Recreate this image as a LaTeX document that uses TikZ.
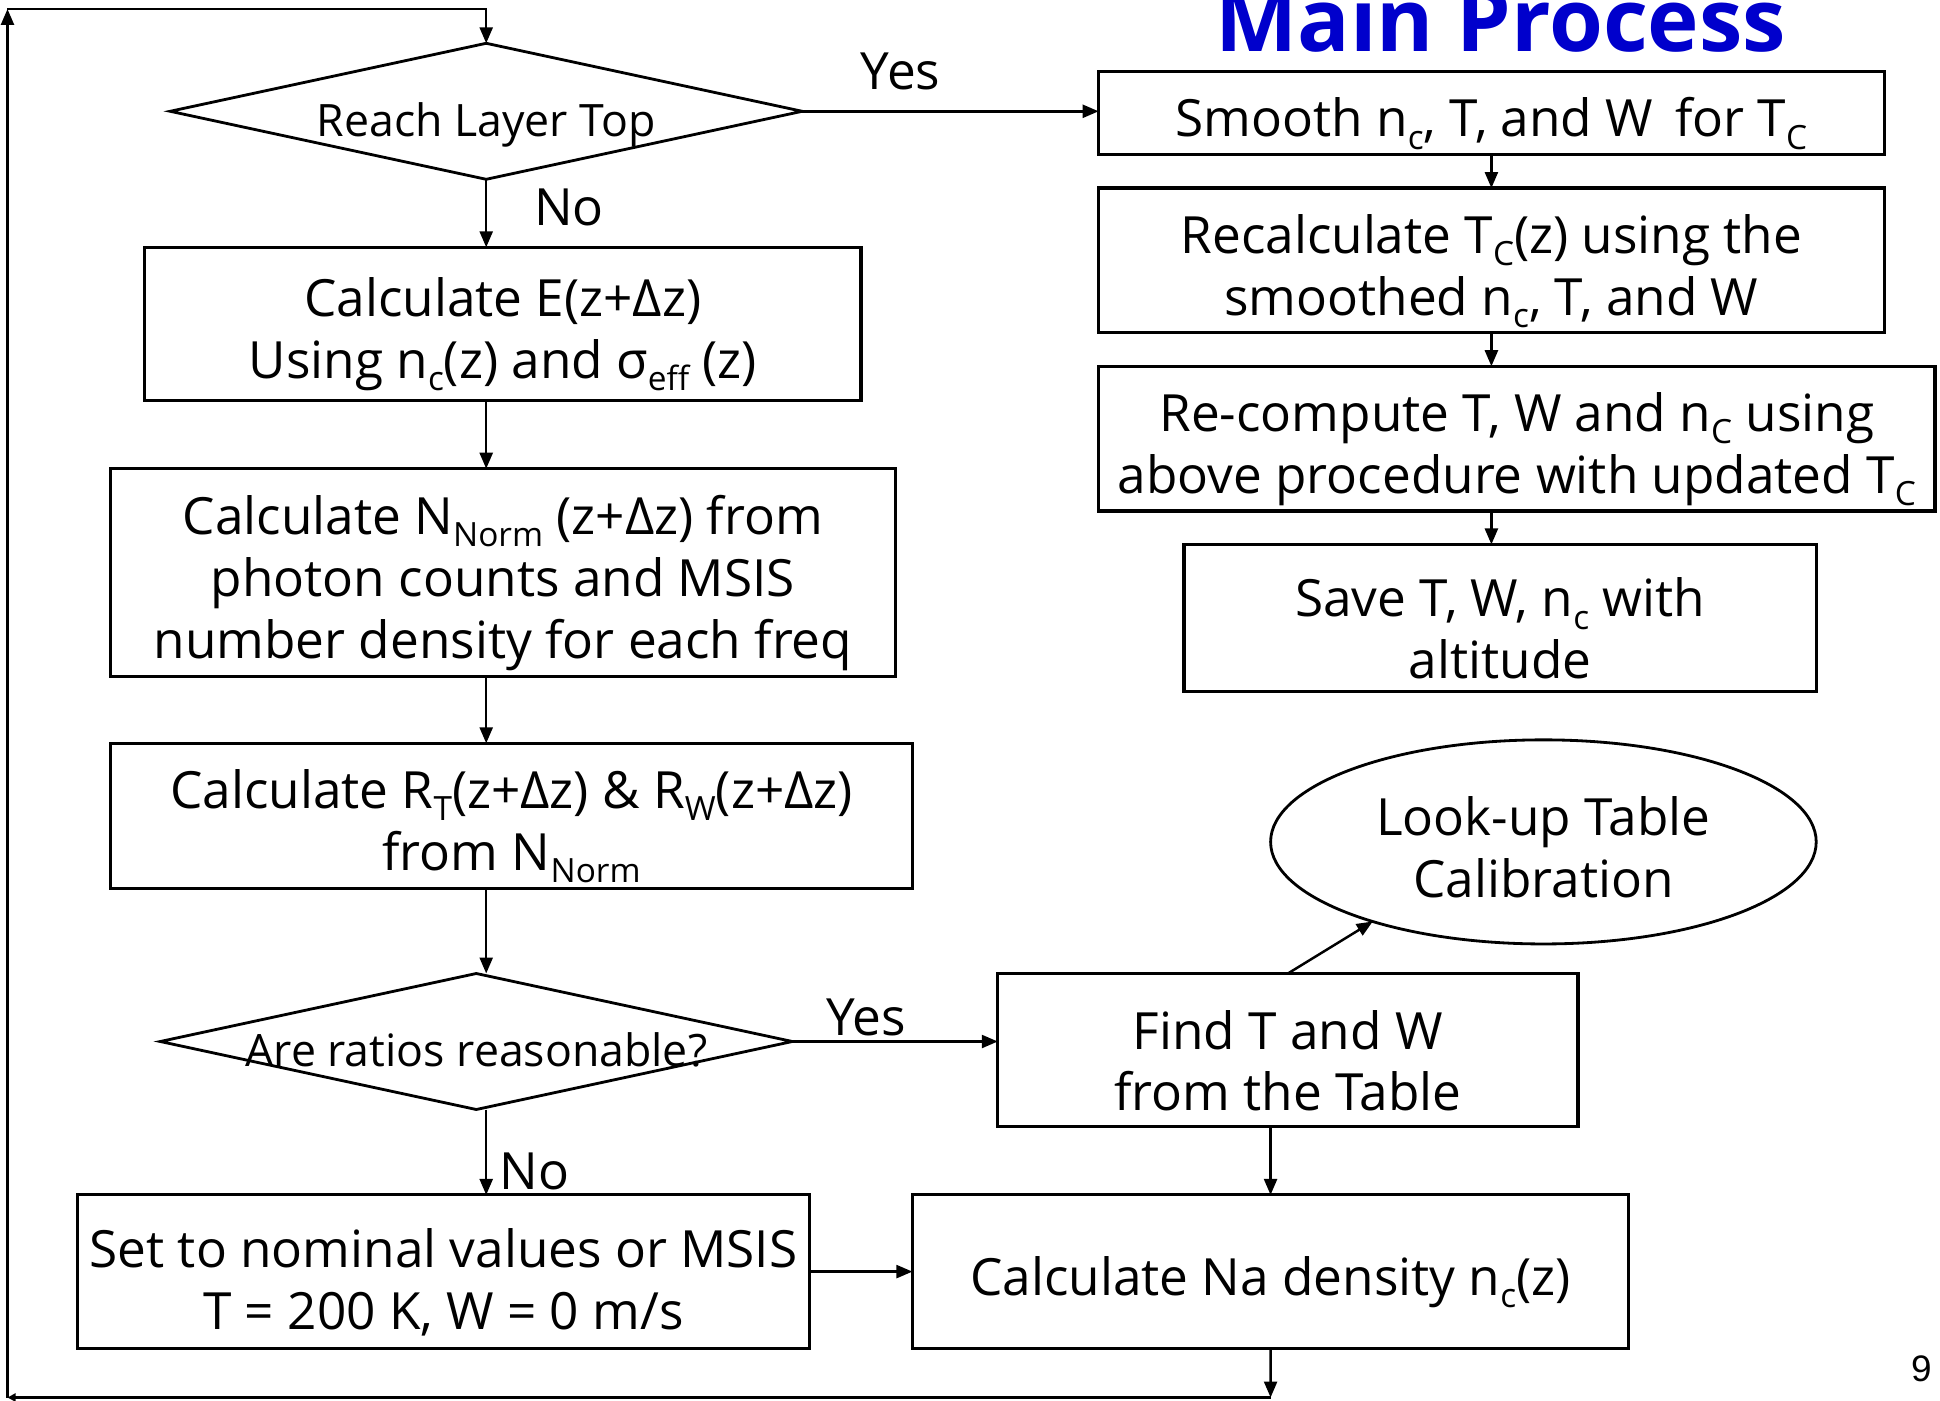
\documentclass[tikz,border=0pt]{standalone}
\usepackage{fontspec}
\setmainfont{Open Sans}
\newfontfamily\numfont{Liberation Sans}
\usetikzlibrary{shapes.geometric, arrows.meta, positioning, calc}
\definecolor{titleblue}{RGB}{0,0,204}
\newcommand{\boxfont}{\fontsize{14.6}{17.6}\selectfont}
\newcommand{\dfont}{\fontsize{12.7}{15}\selectfont}
\newcommand{\sub}[1]{\raisebox{-0.45ex}{\fontsize{9.5}{10}\selectfont #1}}
\newcommand{\dtext}[1]{\raisebox{-0.25cm}[0pt][0pt]{\makebox[0pt]{#1}}}
\newcommand{\topstrut}{\rule{0pt}{0.6cm}}
\newcommand{\ovalstrut}{\rule{0pt}{0.5cm}}

\begin{document}
\begin{tikzpicture}[
      procbox/.style={rectangle, draw=black, line width=0.9pt, inner sep=0pt,
                      outer sep=0pt, font=\boxfont, align=center},
      decision/.style={diamond, aspect=4.6, draw=black, line width=0.8pt,
                       inner sep=0pt, outer sep=0pt, font=\dfont,
                       minimum width=6.32cm, minimum height=1.36cm},
      oval/.style={ellipse, draw=black, line width=0.8pt, inner sep=0pt,
                   outer sep=0pt, font=\boxfont, align=center},
      arr/.style={-{Triangle[length=0.16cm, width=0.13cm]}, line width=0.7pt},
      tinyarr/.style={-{Triangle[length=0.08cm, width=0.08cm]}, line width=0.7pt},
      lbl/.style={font=\boxfont, inner sep=0pt}
    ]
    \useasboundingbox (0,0) rectangle (19.40,-14.005);

    % left column
    \node[decision] (top) at (4.862,-1.113) {\dtext{Reach Layer Top}};
    \node[procbox, minimum width=7.163cm, minimum height=1.534cm,
          below=0.68cm of top, xshift=0.167cm] (ecalc)
          {\topstrut Calculate E(z+Δz)\\Using n\sub{c}(z) and σ\sub{eff} (z)};
    \node[procbox, minimum width=7.844cm, minimum height=2.078cm,
          below=0.68cm of ecalc] (norm)
          {\topstrut Calculate N\sub{Norm} (z+Δz) from\\photon counts and MSIS\\number density for each freq};
    \node[procbox, minimum width=8.017cm, minimum height=1.448cm,
          below=0.668cm of norm, xshift=0.087cm] (ratio)
          {\topstrut Calculate R\sub{T}(z+Δz) \& R\sub{W}(z+Δz)\\from N\sub{Norm}};
    \node[decision, below=0.854cm of ratio, xshift=-0.353cm] (check)
          {\raisebox{0.01cm}{\dtext{Are ratios reasonable?}}};
    \node[procbox, minimum width=7.324cm, minimum height=1.534cm,
          below=0.854cm of check, xshift=-0.328cm] (nominal)
          {\topstrut Set to nominal values or MSIS\\T = 200 K, W = 0 m/s};

    % lower right
    \node[procbox, minimum width=7.163cm, minimum height=1.534cm,
          right=1.027cm of nominal] (density)
          {\topstrut Calculate Na density n\sub{c}(z)};
    \node[procbox, minimum width=5.802cm, minimum height=1.534cm,
          above=0.68cm of density, xshift=0.173cm] (find)
          {\topstrut Find T and W\\from the Table};
    \node[oval, minimum width=5.456cm, minimum height=2.041cm] (table)
          at (15.434,-8.419) {\ovalstrut Look-up Table\\Calibration};

    % right column
    \node[font=\fontsize{24.8}{25}\selectfont\bfseries, text=titleblue,
          anchor=base, inner sep=0pt] (title) at (15.007,-0.52) {Main Process};
    \node[procbox, minimum width=7.856cm, minimum height=0.829cm] (smooth)
          at (14.914,-1.132) {\topstrut Smooth n\sub{c}, T, and W\, for T\sub{C}};
    \node[procbox, minimum width=7.856cm, minimum height=1.448cm,
          below=0.334cm of smooth] (recalc)
          {\topstrut Recalculate T\sub{C}(z) using the\\smoothed n\sub{c}, T, and W};
    \node[procbox, minimum width=8.363cm, minimum height=1.448cm,
          below=0.334cm of recalc, xshift=0.254cm] (recomp)
          {\topstrut Re-compute T, W and n\sub{C} using\\above procedure with updated T\sub{C}};
    \node[procbox, minimum width=6.322cm, minimum height=1.472cm,
          below=0.334cm of recomp, xshift=-0.167cm] (save)
          {\topstrut Save T, W, n\sub{c} with\\altitude};

    % labels
    \node[lbl] (yes1) at (9.007,-0.718) {Yes};
    \node[lbl] (no1) at (5.691,-2.078) {No};
    \node[lbl] (yes2) at (8.660,-10.170) {Yes};
    \node[lbl] (no2) at (5.345,-11.716) {No};
    \node[font=\numfont\fontsize{10.5}{11}\selectfont, inner sep=0pt] (page)
          at (19.214,-13.684) {9};

    % loop corners
    \coordinate (bot) at (12.706,-13.975);
    \coordinate (botl) at (0.075,-13.975);
    \coordinate (topl) at (0.075,-0.09);

    \draw[arr] (top.east) -- (smooth.west |- top.east);
    \draw[arr] (top.south) -- (top.south |- ecalc.north);
    \draw[arr] (top.south |- ecalc.south) -- (top.south |- norm.north);
    \draw[arr] (top.south |- norm.south) -- (top.south |- ratio.north);
    \draw[arr] (top.south |- ratio.south) -- (top.south |- check.north);
    \draw[arr] (check.east) -- (find.west |- check.east);
    \draw[arr] (top.south |- check.south) -- (top.south |- nominal.north);
    \draw[arr] (nominal.east) -- (density.west);
    \draw[arr] (find.north) -- (table.205);
    \draw[arr] (density.north |- find.south) -- (density.north);
    \draw[arr] (density.south) -- (bot);
    \draw[tinyarr] (bot) -- (botl);
    \draw[arr] (botl) -- (topl);
    \draw[arr] (topl) -| (top.north);

    \draw[arr] (recalc.north |- smooth.south) -- (recalc.north);
    \draw[arr] (recalc.south) -- (recalc.south |- recomp.north);
    \draw[arr] (recalc.south |- recomp.south) -- (recalc.south |- save.north);
  \end{tikzpicture}
\end{document}
